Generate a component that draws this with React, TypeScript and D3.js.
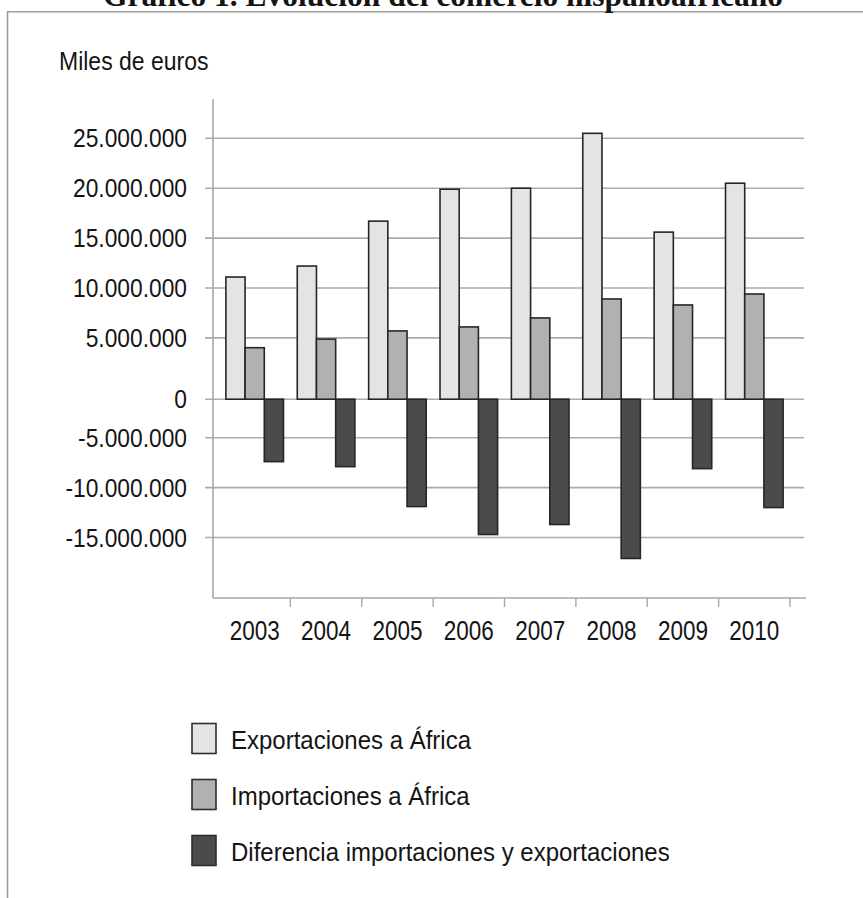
import * as d3 from "d3";

// Spain–Africa trade, thousands of euros
const years = ["2003", "2004", "2005", "2006", "2007", "2008", "2009", "2010"];
const exportaciones = [11100000, 12200000, 16700000, 19900000, 20000000, 25500000, 15600000, 20500000];
const importaciones = [4200000, 4900000, 5700000, 6100000, 7000000, 8900000, 8300000, 9400000];
const diferencia = [-7400000, -7900000, -11900000, -14700000, -13700000, -17100000, -8100000, -12000000];
const yTicks = [25000000, 20000000, 15000000, 10000000, 5000000, 0, -5000000, -10000000, -15000000];
const seriesNames = ["Exportaciones a África", "Importaciones a África", "Diferencia importaciones y exportaciones"];
const seriesColors = ["#e4e4e4", "#b1b1b1", "#4b4b4b"];

const W = 863, H = 898;
const SANS = "'Liberation Sans', Arial, Helvetica, sans-serif";
const SERIF = "'Liberation Serif', 'Times New Roman', serif";

const fmt = d3.formatLocale({ decimal: ",", thousands: ".", grouping: [3], currency: ["", " €"], minus: "-" }).format(",");

// text in the source is taller than it is wide, so stretch vertically
function Label({ x, y, size, sy, anchor = "start", weight, family = SANS, children }: any) {
  return (
    <text transform={`translate(${x},${y}) scale(1,${sy})`} fontSize={size} textAnchor={anchor}
      fontFamily={family} fontWeight={weight} fill="#141414">{children}</text>
  );
}

export default function App() {
  const axisLeft = 213, axisRight = 806, axisTop = 99, axisBottom = 598;

  const x = d3.scaleBand<string>().domain(years).range([219, 790]);
  const groupW = x.bandwidth() * 0.807;
  const xs = d3.scaleBand<number>().domain([0, 1, 2]).range([0, groupW]);

  // the source draws its zero line lower than a straight axis would; keep that
  const lin = d3.scaleLinear().domain([-15000000, 25000000]).range([537.5, 138.3]);
  const zeroDrop = 11.4;
  const y = d3.scaleLinear()
    .domain([-15000000, -5000000, 0, 5000000, 25000000])
    .range([lin(-15000000), lin(-5000000), lin(0) + zeroDrop, lin(5000000), lin(25000000)]);

  const series = [exportaciones, importaciones, diferencia];

  return (
    <div style={{ position: "absolute", left: 0, top: 0, width: W, height: H, background: "#fff" }}>
      <svg width={W} height={H} style={{ display: "block" }}>
        <rect width={W} height={H} fill="#fff" />
        {/* frame */}
        <path d={`M7.5,${H} V11.7 H${W}`} fill="none" stroke="#9c9c9c" strokeWidth={1.6} />
        {/* title, clipped at top in the source */}
        <Label x={443} y={6} size={31.5} sy={1} anchor="middle" weight="bold" family={SERIF}>
          Gráfico 1. Evolución del comercio hispanoafricano
        </Label>
        <Label x={59} y={70} size={23} sy={1.1}>Miles de euros</Label>

        {/* grid + y labels */}
        {yTicks.map((t) => (
          <g key={`y${t}`}>
            <line x1={axisLeft - 8} x2={axisRight - 2} y1={y(t)} y2={y(t)} stroke="#ababab" strokeWidth={1.6} />
            <Label x={187} y={y(t) + 9} size={22.8} sy={1.12} anchor="end">{fmt(t)}</Label>
          </g>
        ))}

        {/* axes */}
        <line x1={axisLeft} x2={axisLeft} y1={axisTop} y2={axisBottom} stroke="#a8a8a8" strokeWidth={1.6} />
        <line x1={axisLeft} x2={axisRight} y1={axisBottom} y2={axisBottom} stroke="#a8a8a8" strokeWidth={1.6} />
        {years.map((yr) => (
          <line key={`t${yr}`} x1={x(yr)! + x.step()} x2={x(yr)! + x.step()} y1={axisBottom} y2={axisBottom + 9}
            stroke="#a8a8a8" strokeWidth={1.4} />
        ))}

        {/* bars */}
        {years.map((yr, i) => {
          const g0 = x(yr)! + (x.bandwidth() - groupW) / 2;
          return (
            <g key={`b${yr}`}>
              {series.map((s, k) => {
                const v = s[i];
                const y0 = y(0), y1 = y(v);
                return (
                  <rect key={k} x={g0 + xs(k)!} width={xs.bandwidth()} y={Math.min(y0, y1)} height={Math.abs(y1 - y0)}
                    fill={seriesColors[k]} stroke="#262626" strokeWidth={1.6} />
                );
              })}
            </g>
          );
        })}

        {/* year labels */}
        {years.map((yr) => (
          <Label key={`l${yr}`} x={x(yr)! + x.bandwidth() / 2} y={640} size={22.5} sy={1.25} anchor="middle">{yr}</Label>
        ))}

        {/* legend */}
        {seriesNames.map((name, k) => (
          <g key={`lg${k}`} transform={`translate(192,${723.5 + k * 56})`}>
            <rect x={0} y={0} width={24} height={30} fill={seriesColors[k]} stroke="#2e2e2e" strokeWidth={1.6} />
            <Label x={39} y={25} size={24} sy={1.08}>{name}</Label>
          </g>
        ))}
      </svg>
    </div>
  );
}
